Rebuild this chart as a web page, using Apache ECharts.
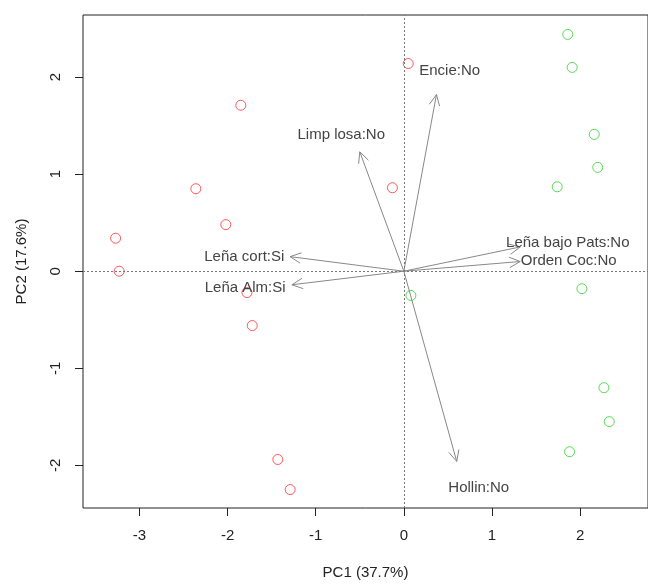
<!DOCTYPE html>
<html>
<head>
<meta charset="utf-8">
<script src="https://cdn.jsdelivr.net/npm/echarts@6/dist/echarts.min.js"></script>
<style>
  html, body { margin: 0; padding: 0; background: #fff; }
  #biplot { width: 648px; height: 585px; }
</style>
</head>
<body>
<div id="biplot"></div>
<script>
// scores, group 1 (red)
var redX = [-1.85, -2.36, -2.02, -3.27, -3.23, -1.78, -1.72, -1.43, -1.29, 0.05, -0.13];
var redY = [1.71, 0.85, 0.48, 0.34, 0.00, -0.22, -0.56, -1.94, -2.25, 2.14, 0.86];
// scores, group 2 (green)
var greenX = [1.86, 1.91, 2.16, 2.20, 1.74, 2.02, 0.08, 2.27, 2.33, 1.88];
var greenY = [2.44, 2.10, 1.41, 1.07, 0.87, -0.18, -0.25, -1.20, -1.55, -1.86];
// variable loadings
var varNames = ['Encie:No', 'Limp losa:No', 'Leña bajo Pats:No', 'Orden Coc:No', 'Leña cort:Si', 'Leña Alm:Si', 'Hollin:No'];
var varX = [0.37, -0.50, 1.32, 1.32, -1.29, -1.27, 0.60];
var varY = [1.82, 1.23, 0.25, 0.10, 0.15, -0.14, -1.96];
var labX = [0.52, -0.71, 1.86, 1.87, -1.81, -1.80, 0.85];
var labY = [2.06, 1.41, 0.29, 0.11, 0.15, -0.17, -2.23];
var xTicks = [-3, -2, -1, 0, 1, 2];
var yTicks = [-2, -1, 0, 1, 2];

var myChart;
document.addEventListener("DOMContentLoaded", function() {
    initChart();
});

function zip(a, b) {
    var out = [];
    for (var i = 0; i < a.length; i++) out.push([a[i], b[i]]);
    return out;
}

function initChart() {
    myChart = echarts.init(document.getElementById('biplot'));
    var fam = '"Liberation Sans", Arial, sans-serif';
    var font = '15px ' + fam;
    var axisText = { color: '#222', fontSize: 15, fontFamily: fam };

    var option = {
        animation: false,
        grid: {
            left: 83, right: -5, top: 15, bottom: 72,
            show: true, borderColor: '#222', borderWidth: 1
        },
        xAxis: {
            type: 'value',
            min: -3.64, max: 2.77,
            name: 'PC1 (37.7%)', nameLocation: 'middle', nameGap: 57,
            nameTextStyle: axisText,
            axisLine: { show: false, onZero: false },
            axisTick: { show: true, length: 8, customValues: xTicks, lineStyle: { color: '#222' } },
            axisLabel: { customValues: xTicks, margin: 20, color: '#222', fontSize: 15, fontFamily: fam },
            splitLine: { show: false }
        },
        yAxis: {
            type: 'value',
            min: -2.44, max: 2.64,
            name: 'PC2 (17.6%)', nameLocation: 'middle', nameGap: 54, nameRotate: 90,
            nameTextStyle: axisText,
            axisLine: { show: false, onZero: false },
            axisTick: { show: true, length: 8, customValues: yTicks, lineStyle: { color: '#222' } },
            axisLabel: { customValues: yTicks, rotate: 90, margin: 20, color: '#222', fontSize: 15, fontFamily: fam },
            splitLine: { show: false }
        },
        series: [{
            name: 'rojo',
            type: 'scatter',
            symbol: 'circle',
            symbolSize: 10,
            data: zip(redX, redY),
            itemStyle: { color: 'rgba(0,0,0,0)', borderColor: '#ff3030', borderWidth: 1 },
            markLine: {
                silent: true,
                symbol: ['none', 'none'],
                label: { show: false },
                lineStyle: { color: '#777', type: [2, 2], width: 1 },
                data: [{ xAxis: 0 }, { yAxis: 0 }]
            },
            z: 3
        }, {
            name: 'verde',
            type: 'scatter',
            symbol: 'circle',
            symbolSize: 10,
            data: zip(greenX, greenY),
            itemStyle: { color: 'rgba(0,0,0,0)', borderColor: '#30d030', borderWidth: 1 },
            z: 3
        }, {
            name: 'flechas',
            type: 'custom',
            data: zip(varX, varY),
            renderItem: function (params, api) {
                var o = api.coord([0, 0]);
                var t = api.coord([api.value(0), api.value(1)]);
                var ang = Math.atan2(t[1] - o[1], t[0] - o[0]);
                var len = 12, spread = Math.PI / 7;
                var h1 = [t[0] - len * Math.cos(ang - spread), t[1] - len * Math.sin(ang - spread)];
                var h2 = [t[0] - len * Math.cos(ang + spread), t[1] - len * Math.sin(ang + spread)];
                return {
                    type: 'group',
                    children: [{
                        type: 'line',
                        shape: { x1: o[0], y1: o[1], x2: t[0], y2: t[1] },
                        style: { stroke: '#888', lineWidth: 1 }
                    }, {
                        type: 'polyline',
                        shape: { points: [h1, t, h2] },
                        style: { stroke: '#888', lineWidth: 1, fill: null }
                    }]
                };
            },
            z: 2
        }, {
            name: 'etiquetas',
            type: 'custom',
            data: labX.map(function (x, i) { return [x, labY[i]]; }),
            renderItem: function (params, api) {
                var p = api.coord([api.value(0), api.value(1)]);
                return {
                    type: 'text',
                    style: {
                        text: varNames[params.dataIndex],
                        x: p[0], y: p[1],
                        align: 'center', verticalAlign: 'middle',
                        fill: '#444', font: font
                    }
                };
            },
            z: 4
        }]
    };

    myChart.setOption(option);
}
</script>
</body>
</html>
